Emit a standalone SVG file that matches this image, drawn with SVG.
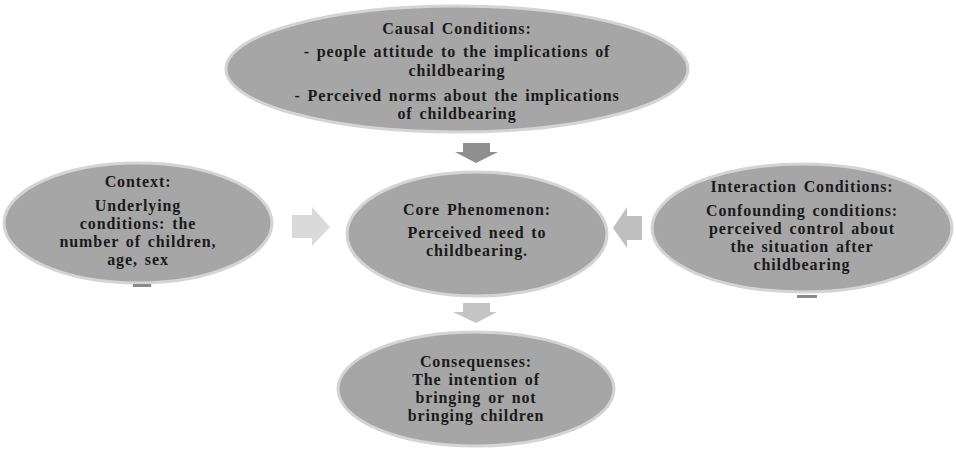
<svg xmlns="http://www.w3.org/2000/svg" width="956" height="457" viewBox="0 0 956 457">
<style>
.node ellipse{fill:#a6a6a6;stroke:#d4d4d4;stroke-width:3}
text{font-family:"Liberation Serif","Times New Roman",serif;font-weight:bold;font-size:16px;letter-spacing:0.9px;word-spacing:2px;fill:#1a1a1a;text-anchor:middle}
.mark{fill:#8a8a8a}
</style>
<rect width="956" height="457" fill="#ffffff"/>
<g id="connectors">
<polygon points="463,143 490,143 490,152 498,152 476,163 455,152 463,152" fill="#8f8f8f"/>
<polygon points="292,215 312,215 312,207 330,227 312,246 312,238 292,238" fill="#dadada"/>
<polygon points="642,216 627,216 627,207 613,228 627,248 627,240 642,240" fill="#c0c0c0"/>
<polygon points="463,303 490,303 490,312 497,312 476,323 453,312 463,312" fill="#c4c4c4"/>
</g>
<g id="causal" class="node">
<ellipse cx="457" cy="69" rx="231" ry="63"/>
<text x="457" y="34">Causal Conditions:</text>
<text x="457" y="57">- people attitude to the implications of</text>
<text x="457" y="76">childbearing</text>
<text x="457" y="101">- Perceived norms about the implications</text>
<text x="457" y="119">of childbearing</text>
</g>
<g id="context" class="node">
<ellipse cx="138" cy="223" rx="134" ry="60"/>
<rect class="mark" x="133" y="284" width="18" height="3"/>
<text x="138" y="187">Context:</text>
<text x="138" y="211">Underlying</text>
<text x="138" y="229">conditions: the</text>
<text x="138" y="247">number of children,</text>
<text x="138" y="265">age, sex</text>
</g>
<g id="core" class="node">
<ellipse cx="477" cy="234" rx="130" ry="62"/>
<text x="477" y="215">Core Phenomenon:</text>
<text x="477" y="238">Perceived need to</text>
<text x="477" y="256">childbearing.</text>
</g>
<g id="interaction" class="node">
<ellipse cx="802" cy="228" rx="150" ry="64"/>
<rect class="mark" x="797" y="295" width="20" height="3"/>
<text x="802" y="192">Interaction Conditions:</text>
<text x="802" y="216">Confounding conditions:</text>
<text x="802" y="234">perceived control about</text>
<text x="802" y="252">the situation after</text>
<text x="802" y="270">childbearing</text>
</g>
<g id="consequences" class="node">
<ellipse cx="476" cy="389" rx="138" ry="57"/>
<text x="476" y="367">Consequenses:</text>
<text x="476" y="385">The intention of</text>
<text x="476" y="403">bringing or not</text>
<text x="476" y="421">bringing children</text>
</g>
</svg>
